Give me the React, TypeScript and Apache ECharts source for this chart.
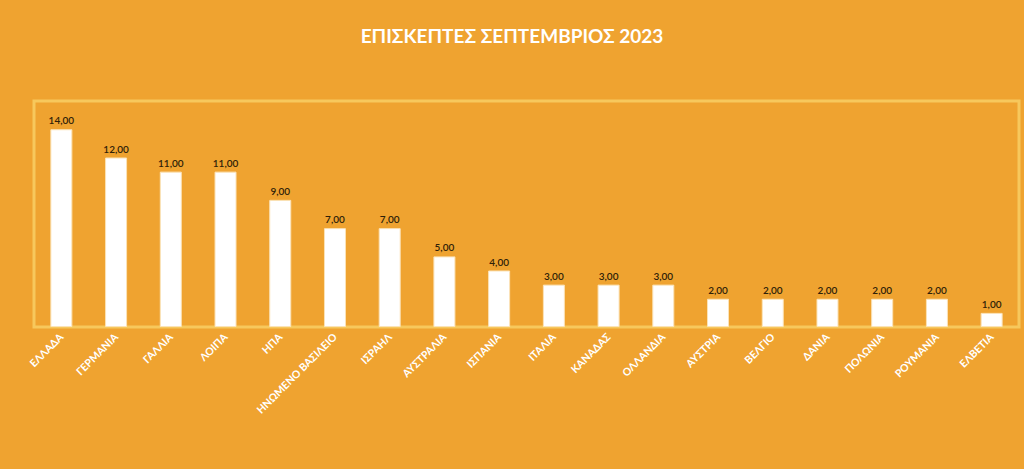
import React, { useEffect, useRef } from "react";
import * as echarts from "echarts";

const categories = [
  "ΕΛΛΑΔΑ", "ΓΕΡΜΑΝΙΑ", "ΓΑΛΛΙΑ", "ΛΟΙΠΑ", "ΗΠΑ", "ΗΝΩΜΕΝΟ ΒΑΣΙΛΕΙΟ",
  "ΙΣΡΑΗΛ", "ΑΥΣΤΡΑΛΙΑ", "ΙΣΠΑΝΙΑ", "ΙΤΑΛΙΑ", "ΚΑΝΑΔΑΣ", "ΟΛΛΑΝΔΙΑ",
  "ΑΥΣΤΡΙΑ", "ΒΕΛΓΙΟ", "ΔΑΝΙΑ", "ΠΟΛΩΝΙΑ", "ΡΟΥΜΑΝΙΑ", "ΕΛΒΕΤΙΑ",
];
const visitors = [14, 12, 11, 11, 9, 7, 7, 5, 4, 3, 3, 3, 2, 2, 2, 2, 2, 1];
const titleText = "ΕΠΙΣΚΕΠΤΕΣ ΣΕΠΤΕΜΒΡΙΟΣ 2023";

export default function App() {
  const ref = useRef<HTMLDivElement>(null);
  useEffect(() => {
    if (!ref.current) return;
    const chart = echarts.init(ref.current, undefined, { renderer: "svg" });
    const font = "Lato, 'Open Sans', sans-serif";
    chart.setOption({
      animation: false,
      backgroundColor: "#EFA330",
      title: {
        text: titleText,
        left: "center",
        top: 21,
        textStyle: { color: "#FFFFFF", fontSize: 19, fontWeight: "bold", fontFamily: font },
      },
      grid: {
        left: 34,
        right: 5,
        top: 101,
        bottom: 142,
        show: true,
        borderColor: "#F7C85C",
        borderWidth: 3,
        backgroundColor: "transparent",
        containLabel: false,
      },
      xAxis: {
        type: "category",
        data: categories,
        axisLine: { show: false },
        axisTick: { show: false },
        axisLabel: {
          rotate: 45,
          interval: 0,
          color: "#FFFFFF",
          fontSize: 10.5,
          fontWeight: "bold",
          fontFamily: font,
          margin: 8,
        },
      },
      yAxis: {
        type: "value",
        min: 0,
        max: 16,
        show: false,
        splitLine: { show: false },
      },
      series: [
        {
          type: "bar",
          data: visitors,
          barWidth: 22,
          itemStyle: { color: "#FFFFFF", borderColor: "#FBE3B8", borderWidth: 1 },
          label: {
            show: true,
            position: "top",
            distance: 4,
            color: "#2E2108",
            fontSize: 10,
            fontWeight: 600,
            fontFamily: font,
            formatter: (p: any) => Number(p.value).toFixed(2).replace(".", ","),
          },
        },
      ],
    });
    return () => chart.dispose();
  }, []);
  return <div ref={ref} style={{ width: 1024, height: 469, position: "absolute", left: 0, top: 0 }} />;
}
